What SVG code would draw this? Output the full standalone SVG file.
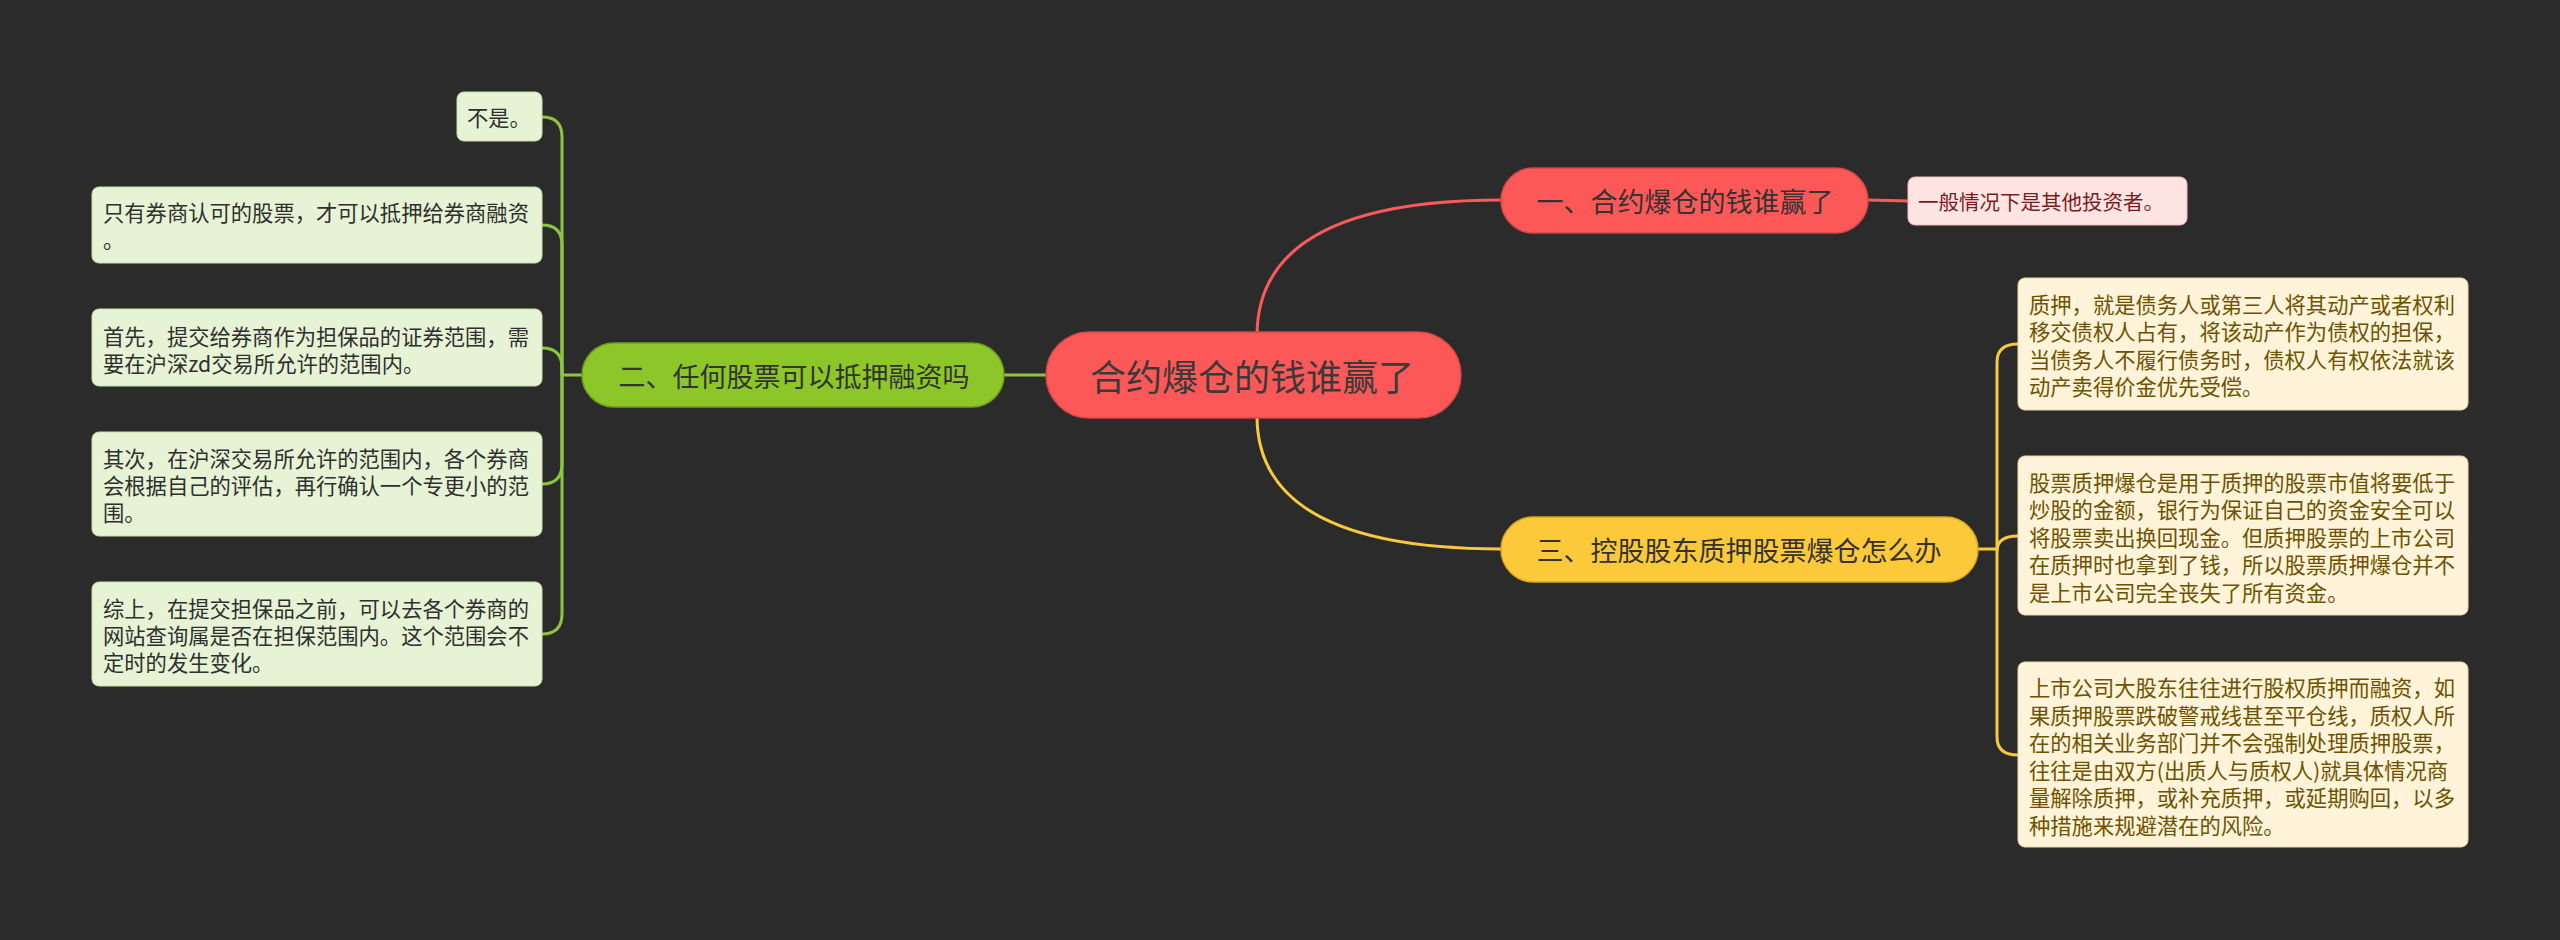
<svg xmlns="http://www.w3.org/2000/svg" width="2560" height="940" viewBox="0 0 2560 940">
<style>
text{font-family:"Noto Sans CJK SC","Noto Sans",sans-serif;}
.main{font-size:27px;fill:#333333;text-anchor:middle;dominant-baseline:central;}
.root{font-size:36px;fill:#3a3a3a;text-anchor:middle;dominant-baseline:central;}
.gl{fill:#e7f3d5;stroke:#c9dfa8;stroke-width:1;}
.yl{fill:#fff4d9;stroke:#e9d9a8;stroke-width:1;}
.pl{fill:#ffe4e4;stroke:#f0bcbc;stroke-width:1;}
.gt{font-size:21.3px;fill:#2f2f2f;dominant-baseline:central;}
.yt{font-size:21.3px;fill:#6e5200;dominant-baseline:central;}
.pt{font-size:20.5px;fill:#7a1c1c;dominant-baseline:central;}
.cg{fill:none;stroke:#8cc63f;stroke-width:3;}
.cr{fill:none;stroke:#f95b5b;stroke-width:3;}
.cy{fill:none;stroke:#f7c93e;stroke-width:3;}
</style>
<rect x="0" y="0" width="2560" height="940" fill="#2b2b2b"/>
<g id="connectors">
<path class="cr" d="M1257 336 Q1257 200 1502 200"/>
<path class="cr" d="M1868 200 L1908 201"/>
<path class="cy" d="M1257 416 Q1257 549 1502 549"/>
<path class="cg" d="M1004 375 L1046 375"/>
<path class="cg" d="M583 375 H562"/>
<path class="cg" d="M562 375 V137 Q562 117 542 117"/>
<path class="cg" d="M562 375 V245 Q562 225 542 225"/>
<path class="cg" d="M562 375 V368 Q562 348 542 348"/>
<path class="cg" d="M562 375 V464 Q562 484 542 484"/>
<path class="cg" d="M562 375 V614 Q562 634 542 634"/>
<path class="cy" d="M1978 549 H1997"/>
<path class="cy" d="M1997 549 V362 Q1997 344 2018 344"/>
<path class="cy" d="M1997 551 Q1997 536 2018 536"/>
<path class="cy" d="M1997 549 V737 Q1997 755 2018 755"/>
</g>
<g id="root">
<rect x="1046" y="332" width="415" height="86" rx="43" fill="#fc5858" stroke="#d84646" stroke-width="1.5"/>
<text class="root" x="1252" y="375">合约爆仓的钱谁赢了</text>
</g>
<g id="b1">
<rect x="1501" y="168" width="367" height="65" rx="32.5" fill="#fc5858" stroke="#d84646" stroke-width="1.5"/>
<text class="main" x="1685" y="200">一、合约爆仓的钱谁赢了</text>
</g>
<g id="b1l1">
<rect class="pl" x="1908" y="177" width="279" height="48" rx="7"/>
<text class="pt" x="1918" y="201">一般情况下是其他投资者。</text>
</g>
<g id="b2">
<rect x="582" y="343" width="422" height="64" rx="32" fill="#8cc628" stroke="#6fa01c" stroke-width="1.5"/>
<text class="main" x="794" y="375">二、任何股票可以抵押融资吗</text>
</g>
<g id="b2l1">
<rect class="gl" x="457" y="92" width="85" height="49" rx="7"/>
<text class="gt" x="467" y="116.5">不是。</text>
</g>
<g id="b2l2">
<rect class="gl" x="92" y="187" width="450" height="76" rx="7"/>
<text class="gt" x="103" y="211.5">只有券商认可的股票，才可以抵押给券商融资</text>
<text class="gt" x="103" y="238.5">。</text>
</g>
<g id="b2l3">
<rect class="gl" x="92" y="309" width="450" height="77" rx="7"/>
<text class="gt" x="103" y="335">首先，提交给券商作为担保品的证券范围，需</text>
<text class="gt" x="103" y="362">要在沪深zd交易所允许的范围内。</text>
</g>
<g id="b2l4">
<rect class="gl" x="92" y="432" width="450" height="104" rx="7"/>
<text class="gt" x="103" y="457">其次，在沪深交易所允许的范围内，各个券商</text>
<text class="gt" x="103" y="484">会根据自己的评估，再行确认一个专更小的范</text>
<text class="gt" x="103" y="511">围。</text>
</g>
<g id="b2l5">
<rect class="gl" x="92" y="582" width="450" height="104" rx="7"/>
<text class="gt" x="103" y="607">综上，在提交担保品之前，可以去各个券商的</text>
<text class="gt" x="103" y="634">网站查询属是否在担保范围内。这个范围会不</text>
<text class="gt" x="103" y="661">定时的发生变化。</text>
</g>
<g id="b3">
<rect x="1501" y="517" width="477" height="65" rx="32.5" fill="#fcc93a" stroke="#d9a820" stroke-width="1.5"/>
<text class="main" x="1739" y="549.5">三、控股股东质押股票爆仓怎么办</text>
</g>
<g id="b3l1">
<rect class="yl" x="2018" y="278" width="450" height="132" rx="7"/>
<text class="yt" x="2029" y="303">质押，就是债务人或第三人将其动产或者权利</text>
<text class="yt" x="2029" y="330.5">移交债权人占有，将该动产作为债权的担保，</text>
<text class="yt" x="2029" y="358">当债务人不履行债务时，债权人有权依法就该</text>
<text class="yt" x="2029" y="385.5">动产卖得价金优先受偿。</text>
</g>
<g id="b3l2">
<rect class="yl" x="2018" y="456" width="450" height="159" rx="7"/>
<text class="yt" x="2029" y="481">股票质押爆仓是用于质押的股票市值将要低于</text>
<text class="yt" x="2029" y="508.5">炒股的金额，银行为保证自己的资金安全可以</text>
<text class="yt" x="2029" y="536">将股票卖出换回现金。但质押股票的上市公司</text>
<text class="yt" x="2029" y="563.5">在质押时也拿到了钱，所以股票质押爆仓并不</text>
<text class="yt" x="2029" y="591">是上市公司完全丧失了所有资金。</text>
</g>
<g id="b3l3">
<rect class="yl" x="2018" y="662" width="450" height="185" rx="7"/>
<text class="yt" x="2029" y="686.5">上市公司大股东往往进行股权质押而融资，如</text>
<text class="yt" x="2029" y="714">果质押股票跌破警戒线甚至平仓线，质权人所</text>
<text class="yt" x="2029" y="741.5">在的相关业务部门并不会强制处理质押股票，</text>
<text class="yt" x="2029" y="769">往往是由双方(出质人与质权人)就具体情况商</text>
<text class="yt" x="2029" y="796.5">量解除质押，或补充质押，或延期购回，以多</text>
<text class="yt" x="2029" y="824">种措施来规避潜在的风险。</text>
</g>
</svg>
